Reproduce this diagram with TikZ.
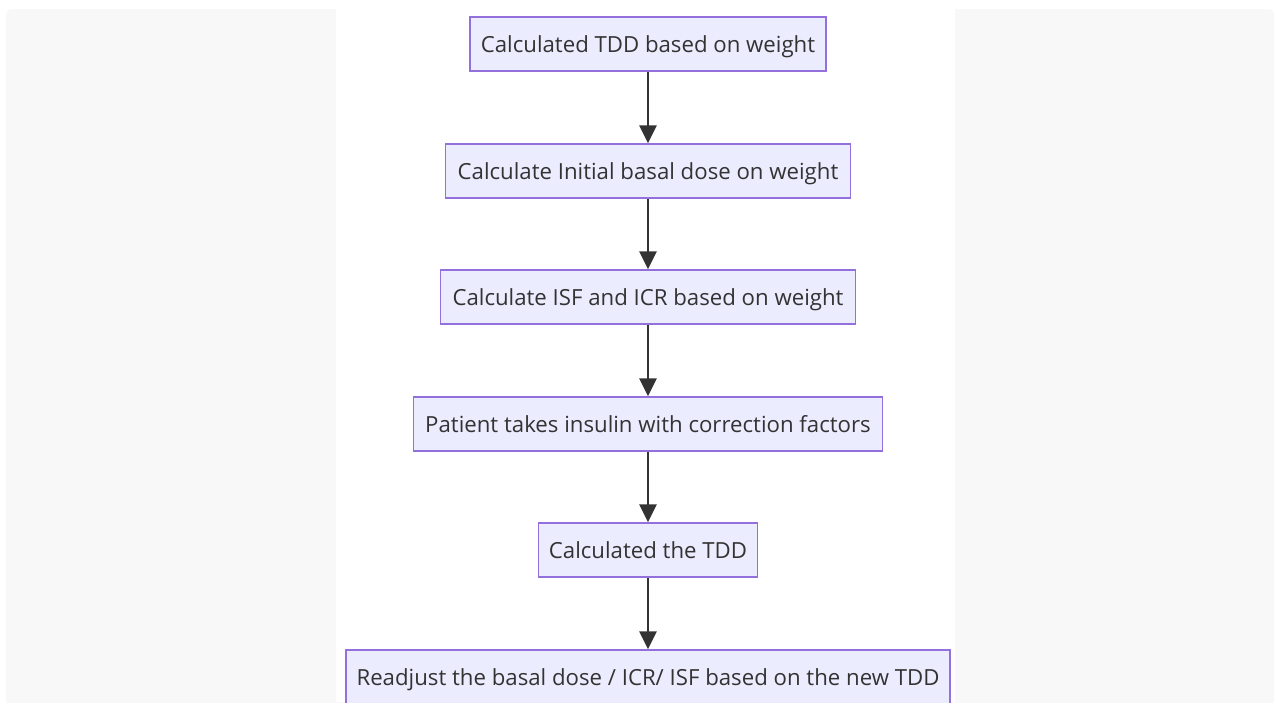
\documentclass[tikz,border=0pt]{standalone}
\usepackage{fontspec}
\setmainfont{Open Sans}
\usetikzlibrary{arrows.meta}
\definecolor{boxfill}{HTML}{ECECFF}
\definecolor{boxline}{HTML}{9370DB}
\definecolor{ink}{HTML}{333333}
\definecolor{panel}{HTML}{F8F8F8}
\begin{document}
\begin{tikzpicture}[
        x=1pt, y=-1pt,
        step box/.style={draw=boxline, fill=boxfill, line width=1.5pt, minimum height=54pt,
            inner sep=0pt, text=ink, text height=19pt, text depth=3pt,
            font=\fontsize{22.2}{26}\selectfont},
        forward/.style={-{Triangle[width=17pt,length=18pt]}, draw=ink, line width=2.8pt, fill=ink}
    ]
        \useasboundingbox (0, 0) rectangle (1279, 702);
        \fill[white] (0, 0) rectangle (1279, 702);
        \fill[panel, rounded corners=6pt] (6, 9) rectangle (1274, 740);
        \fill[white] (336, 0) rectangle (955, 702);
        \node[step box, minimum width=356pt] (tdd) at (648, 44) {Calculated TDD based on weight};
        \node[step box, minimum width=405pt] (basal) at (648, 171) {Calculate Initial basal dose on weight};
        \node[step box, minimum width=415pt] (isf) at (648, 297) {Calculate ISF and ICR based on weight};
        \node[step box, minimum width=469pt] (patient) at (648, 424) {Patient takes insulin with correction factors};
        \node[step box, minimum width=219pt] (newtdd) at (648, 550) {Calculated the TDD};
        \node[step box, minimum width=604pt] (readjust) at (648, 677) {Readjust the basal dose / ICR/ ISF based on the new TDD};
        \draw[forward] (tdd) -- (basal);
        \draw[forward] (basal) -- (isf);
        \draw[forward] (isf) -- (patient);
        \draw[forward] (patient) -- (newtdd);
        \draw[forward] (newtdd) -- (readjust);
    \end{tikzpicture}
\end{document}
